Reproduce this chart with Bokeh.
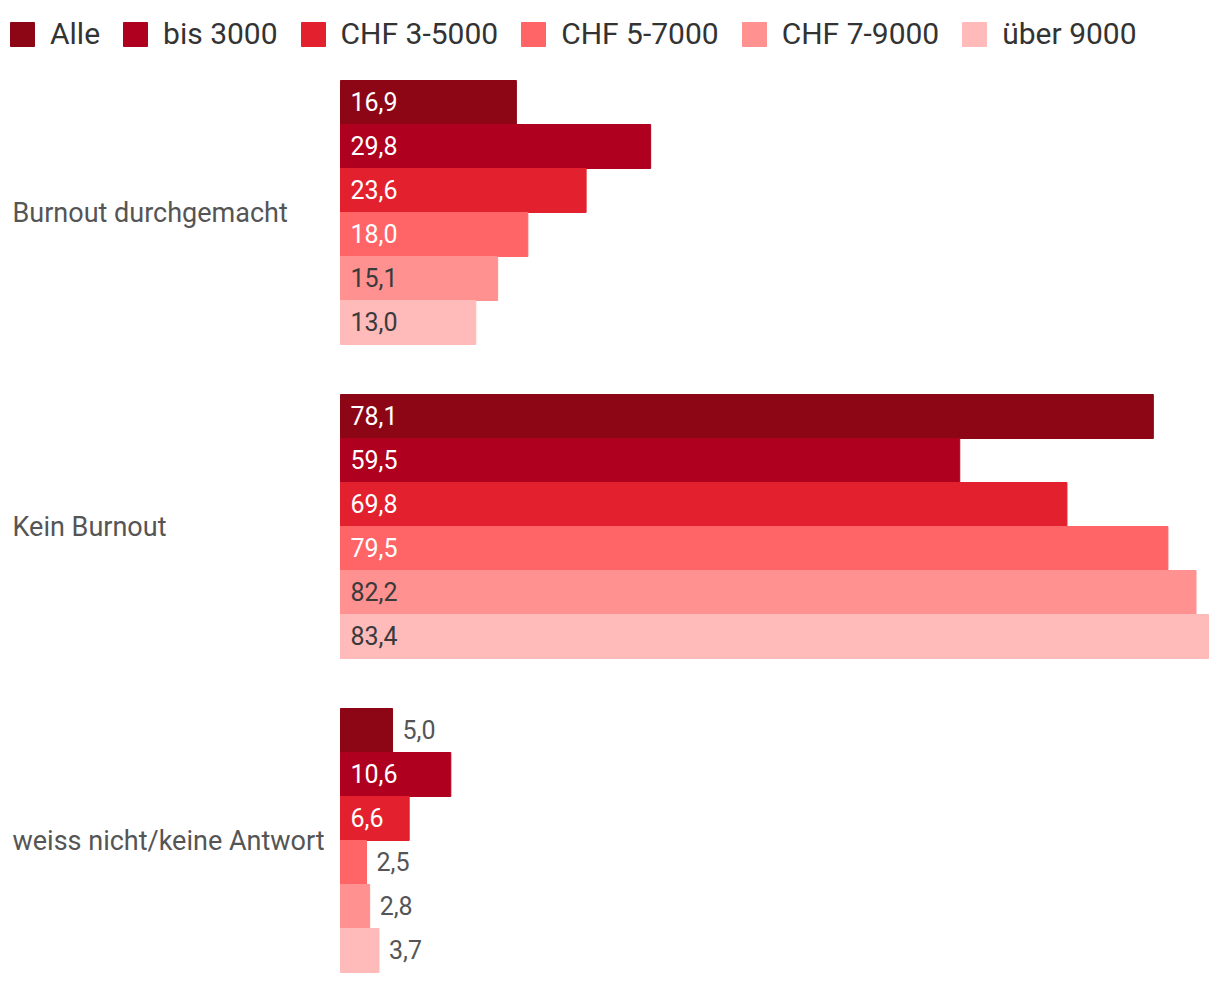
from bokeh.plotting import figure
from bokeh.models import Range1d, Legend, LegendItem, ColumnDataSource
from bokeh.core.properties import value
from bokeh.embed import file_html
from bokeh.resources import INLINE

categories = ["Burnout durchgemacht", "Kein Burnout", "weiss nicht/keine Antwort"]
series = ["Alle", "bis 3000", "CHF 3-5000", "CHF 5-7000", "CHF 7-9000", "über 9000"]

alle = [16.9, 78.1, 5.0]
bis_3000 = [29.8, 59.5, 10.6]
chf_3_5000 = [23.6, 69.8, 6.6]
chf_5_7000 = [18.0, 79.5, 2.5]
chf_7_9000 = [15.1, 82.2, 2.8]
ueber_9000 = [13.0, 83.4, 3.7]
values = [alle, bis_3000, chf_3_5000, chf_5_7000, chf_7_9000, ueber_9000]

colors = ["#8C0615", "#B0001F", "#E3212E", "#FF6567", "#FF9191", "#FFBABA"]
inside_text = ["#FFFFFF", "#FFFFFF", "#FFFFFF", "#FFFFFF", "#3A3A3A", "#3A3A3A"]
outside_text = "#555555"
FONT = "Roboto"

# ---- layout (pixels) ----
W, H = 1212, 976
bar_left_px = 340                 # where value 0 sits
px_per_unit = 868 / 83.4          # horizontal scale
bar_px = 44                       # bar thickness -> 1 vertical unit
top_px = 80                       # first bar top
gap_units = 50 / bar_px           # gap between groups
n_s = len(series)

x0 = -bar_left_px / px_per_unit
x1 = (W - bar_left_px) / px_per_unit
label_x = (12 - bar_left_px) / px_per_unit
top_u = top_px / bar_px

def bar_center(g, s):
    return top_u + g * (n_s + gap_units) + s + 0.5

p = figure(width=W, height=H, x_range=Range1d(x0, x1),
           y_range=Range1d(H / bar_px, 0),
           output_backend="svg", toolbar_location=None,
           x_axis_type=None, y_axis_type=None,
           min_border_left=0, min_border_right=0, min_border_top=0, min_border_bottom=0)
p.outline_line_color = None
p.xgrid.visible = False
p.ygrid.visible = False
p.background_fill_color = "white"
p.border_fill_color = "white"

items = []
for si, (s, vals, col, tcol) in enumerate(zip(series, values, colors, inside_text)):
    ys = [bar_center(g, si) for g in range(len(categories))]
    src = ColumnDataSource(dict(y=ys, v=vals, cat=categories))
    r = p.hbar(y="y", right="v", left=0, height=1.0, color=col, source=src)
    items.append(LegendItem(label=s, renderers=[r]))
    lx, lt, lc = [], [], []
    for v in vals:
        lt.append(f"{v:.1f}".replace(".", ","))
        if v >= 6:
            lx.append(0)
            lc.append(tcol)
        else:
            lx.append(v)
            lc.append(outside_text)
    lsrc = ColumnDataSource(dict(x=lx, y=ys, t=lt, c=lc))
    p.text(x="x", y="y", text="t", text_color="c", source=lsrc, x_offset=10,
           y_offset=-1, text_baseline="middle", text_align="left",
           text_font=value(FONT), text_font_size="25px")

cat_y = [top_u + g * (n_s + gap_units) + n_s / 2 for g in range(len(categories))]
p.text(x=[label_x] * len(categories), y=cat_y, text=categories,
       text_baseline="middle", text_align="left", text_color="#555555",
       text_font=value(FONT), text_font_size="27px")

legend = Legend(items=items, orientation="horizontal", location=(7, H - 51),
                glyph_width=30, glyph_height=30, label_standoff=13, spacing=20,
                label_height=30, padding=0, margin=0,
                border_line_alpha=0, background_fill_alpha=0,
                label_text_font=FONT, label_text_font_size="30px",
                label_text_color="#333333")
p.add_layout(legend)

open("out.html", "w").write(file_html(p, INLINE))
